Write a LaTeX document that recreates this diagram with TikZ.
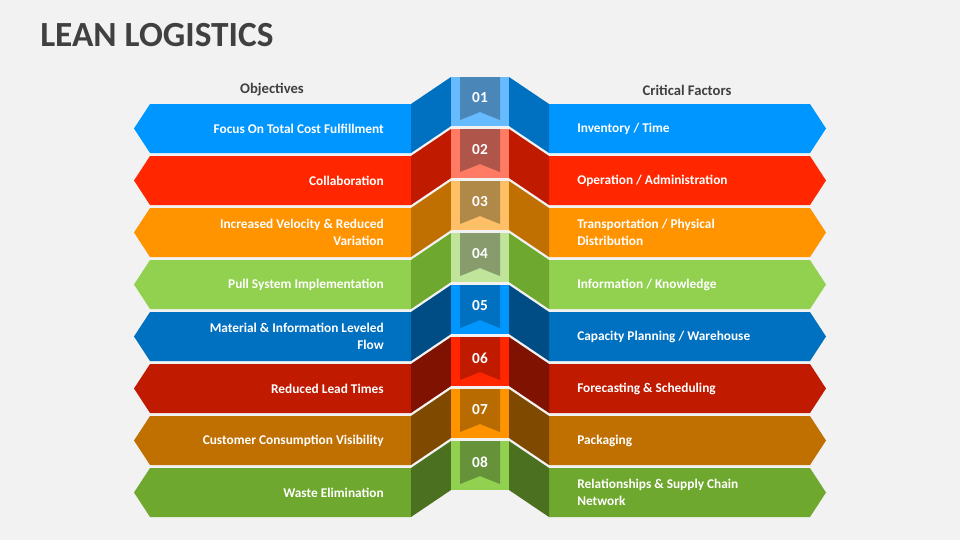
\documentclass[tikz,border=0pt]{standalone}
\usepackage{fontspec}
\setmainfont{Carlito}
\definecolor{bgc}{HTML}{F2F2F2}
\definecolor{ttl}{HTML}{404040}
\definecolor{bA}{HTML}{0096FF}\definecolor{dA}{HTML}{0070C0}\definecolor{sA}{HTML}{66BBFF}\definecolor{rA}{HTML}{4A86B8}
\definecolor{bB}{HTML}{FF2600}\definecolor{dB}{HTML}{C01B00}\definecolor{sB}{HTML}{FF7B63}\definecolor{rB}{HTML}{B0554A}
\definecolor{bC}{HTML}{FF9300}\definecolor{dC}{HTML}{C07000}\definecolor{sC}{HTML}{FFBF66}\definecolor{rC}{HTML}{B08848}
\definecolor{bD}{HTML}{92D050}\definecolor{dD}{HTML}{6FA82E}\definecolor{sD}{HTML}{C0E49A}\definecolor{rD}{HTML}{879B6C}
\definecolor{bE}{HTML}{0070C0}\definecolor{dE}{HTML}{004C85}\definecolor{sE}{HTML}{0096FF}\definecolor{rE}{HTML}{0070C0}
\definecolor{bF}{HTML}{C01B00}\definecolor{dF}{HTML}{7F1200}\definecolor{sF}{HTML}{FF2600}\definecolor{rF}{HTML}{C01B00}
\definecolor{bG}{HTML}{C07000}\definecolor{dG}{HTML}{7F4A00}\definecolor{sG}{HTML}{FF9300}\definecolor{rG}{HTML}{B86B00}
\definecolor{bH}{HTML}{6FA82E}\definecolor{dH}{HTML}{4A7020}\definecolor{sH}{HTML}{92D050}\definecolor{rH}{HTML}{66923A}
\tikzset{lt/.style={font=\bfseries\fontsize{10}{12.5}\selectfont, text=white, align=right, anchor=east, inner sep=0pt},
rt/.style={font=\bfseries\fontsize{10}{12.5}\selectfont, text=white, align=left, anchor=west, inner sep=0pt},
hd/.style={font=\bfseries\fontsize{11}{13}\selectfont, text=ttl},
num/.style={font=\bfseries\fontsize{11.5}{13}\selectfont, text=white}}
\begin{document}
\begin{tikzpicture}[x=0.75pt,y=-0.75pt]
\fill[bgc] (0,0) rectangle (960,540);
\useasboundingbox (0,0) rectangle (960,540);
\node[anchor=west, font=\bfseries\fontsize{26.5}{30}\selectfont, text=ttl, inner sep=0pt] (title) at (40,35) {LEAN LOGISTICS};
\node[hd] (obj) at (272,90) {Objectives};
\node[hd] (crit) at (687,90) {Critical Factors};
\foreach \i/\c/\L/\R in {1/A/{Focus On Total Cost Fulfillment}/{Inventory / Time},
2/B/{Collaboration}/{Operation / Administration},
3/C/{Increased Velocity \& Reduced\\Variation}/{Transportation / Physical\\Distribution},
4/D/{Pull System Implementation}/{Information / Knowledge},
5/E/{Material \& Information Leveled\\Flow}/{Capacity Planning / Warehouse},
6/F/{Reduced Lead Times}/{Forecasting \& Scheduling},
7/G/{Customer Consumption Visibility}/{Packaging},
8/H/{Waste Elimination}/{Relationships \& Supply Chain\\Network}}{
 \pgfmathsetmacro\t{104+52*(\i-1)}
 \pgfmathsetmacro\b{\t+49}
 \pgfmathsetmacro\m{\t+24.5}
 \pgfmathsetmacro\ct{77+52*(\i-1)}
 \pgfmathsetmacro\cb{\ct+49}
 \fill[b\c] (134,\m) -- (150,\t) -- (411,\t) -- (411,\b) -- (150,\b) -- cycle;
 \fill[b\c] (826,\m) -- (810,\t) -- (549,\t) -- (549,\b) -- (810,\b) -- cycle;
 \fill[d\c] (411,\t) -- (451,\ct) -- (451,\cb) -- (411,\b) -- cycle;
 \fill[d\c] (549,\t) -- (509,\ct) -- (509,\cb) -- (549,\b) -- cycle;
 \fill[s\c] (451,\ct) rectangle (509,\cb);
 \fill[r\c] (460,\ct) -- (500,\ct) -- (500,\ct+43) -- (480,\ct+35) -- (460,\ct+43) -- cycle;
 \node[num] (n\i) at (480,\ct+21) {0\i};
 \node[lt] (l\i) at (384,\m) {\L};
 \node[rt] (r\i) at (577,\m) {\R};
}
\end{tikzpicture}
\end{document}
